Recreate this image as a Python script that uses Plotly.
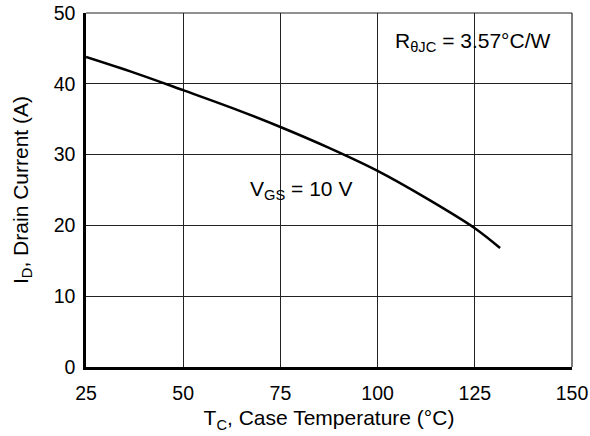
import plotly.graph_objects as go

# Case temperature (°C) and maximum continuous drain current (A)
case_temp = [25, 37.5, 50, 62.5, 75, 87.5, 100, 112.5, 125, 131.5]
drain_current = [43.8, 41.55, 39.1, 36.6, 33.9, 30.95, 27.7, 23.85, 19.6, 16.8]

x_ticks = [25, 50, 75, 100, 125, 150]
y_ticks = [0, 10, 20, 30, 40, 50]

FONT = "Liberation Sans"
TICK_FS = 19.5
TEXT_FS = 21

fig = go.Figure()
fig.add_trace(go.Scatter(
    x=case_temp, y=drain_current, mode="lines",
    line=dict(color="black", width=2.5, shape="spline", smoothing=1.0),
    showlegend=False, hoverinfo="skip",
))

fig.update_layout(
    width=590, height=436,
    margin=dict(l=86, r=18, t=13, b=69),
    paper_bgcolor="white", plot_bgcolor="white",
    font=dict(family=FONT, size=TICK_FS, color="black"),
    xaxis=dict(
        range=[25, 150], tickvals=x_ticks, ticktext=[str(v) for v in x_ticks],
        showgrid=True, gridcolor="#222", gridwidth=1,
        showline=True, linecolor="black", linewidth=2.5,
        zeroline=False, ticks="", ticklabelstandoff=7, automargin=False,
        tickfont=dict(family=FONT, size=TICK_FS),
        title=dict(text="T<sub>C</sub>, Case Temperature (°C)", standoff=8,
                   font=dict(family=FONT, size=TEXT_FS)),
    ),
    yaxis=dict(
        range=[0, 50], tickvals=y_ticks, ticktext=[str(v) for v in y_ticks],
        showgrid=True, gridcolor="#222", gridwidth=1,
        showline=True, linecolor="black", linewidth=2.5,
        zeroline=False, ticks="", ticklabelstandoff=4, automargin=False,
        tickfont=dict(family=FONT, size=TICK_FS),
        title=dict(text="I<sub>D</sub>, Drain Current (A)", standoff=20,
                   font=dict(family=FONT, size=TEXT_FS)),
    ),
)

# thin frame on the top and right edges
fig.add_shape(type="line", xref="paper", yref="paper", x0=0, x1=1, y0=1, y1=1,
              line=dict(color="#222", width=1.2))
fig.add_shape(type="line", xref="paper", yref="paper", x0=1, x1=1, y0=0, y1=1,
              line=dict(color="#222", width=1.2))

fig.add_annotation(x=124.5, y=45.9, xref="x", yref="y",
                   text="R<sub>θJC</sub> = 3.57°C/W", showarrow=False,
                   font=dict(size=TEXT_FS, family=FONT))
fig.add_annotation(x=80.3, y=25.0, xref="x", yref="y",
                   text="V<sub>GS</sub> = 10 V", showarrow=False,
                   font=dict(size=TEXT_FS, family=FONT))

fig.write_html("out.html")
